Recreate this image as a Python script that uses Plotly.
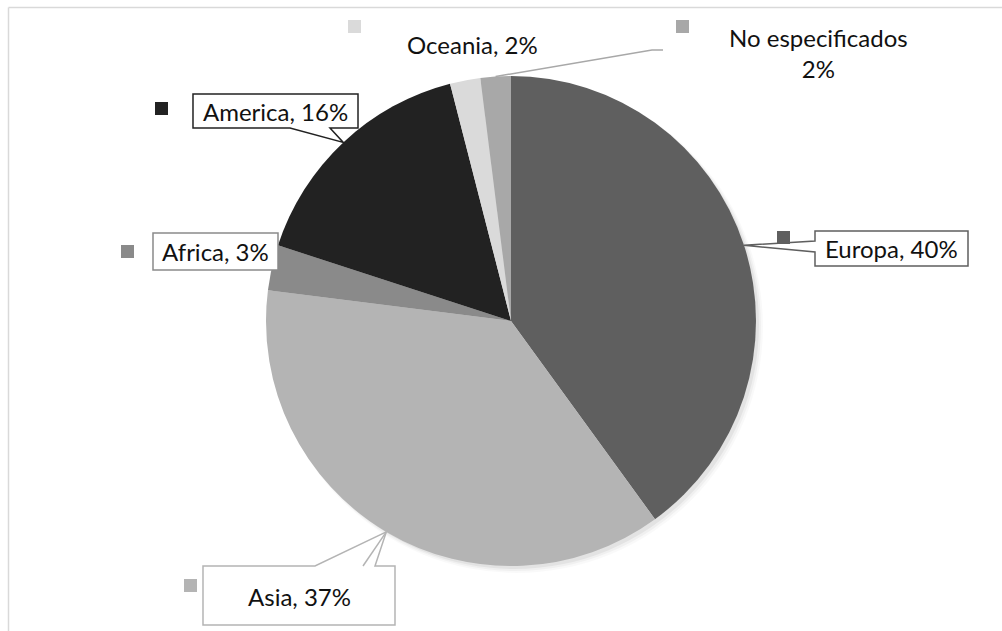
import math
import plotly.graph_objects as go

# Distribución por región de origen
regiones = ["Europa", "Asia", "Africa", "America", "Oceania", "No especificados"]
porcentajes = [40, 37, 3, 16, 2, 2]
colores = ["#5f5f5f", "#b4b4b4", "#8a8a8a", "#222222", "#dadada", "#a8a8a8"]

W, H = 1002, 631
CX, CY, R = 511, 321, 245  # centro y radio del pastel en píxeles


def px(x, y):
    """Píxeles (origen arriba a la izquierda) -> coordenadas paper."""
    return x / W, 1 - y / H


def punto_medio(i):
    """Punto del borde del pastel en el centro angular de la porción i."""
    total = sum(porcentajes)
    acum = sum(porcentajes[:i]) + porcentajes[i] / 2
    th = 2 * math.pi * acum / total
    return CX + R * math.sin(th), CY - R * math.cos(th)


def ruta(puntos, cerrar=True):
    partes = []
    for k, (x, y) in enumerate(puntos):
        u, v = px(x, y)
        partes.append(("M" if k == 0 else "L") + f"{u:.5f},{v:.5f}")
    return " ".join(partes) + (" Z" if cerrar else "")


fig = go.Figure()
x0, y1 = px(CX - R, CY - R)
x1, y0 = px(CX + R, CY + R)
fig.add_trace(go.Pie(
    labels=regiones,
    values=porcentajes,
    marker=dict(colors=colores, line=dict(width=0)),
    sort=False,
    direction="clockwise",
    rotation=0,
    textinfo="none",
    hoverinfo="label+percent",
    showlegend=False,
    domain=dict(x=[x0, x1], y=[y0, y1]),
))

shapes = []

# sombra suave bajo el pastel (desplazada hacia abajo a la derecha)
for d, op in [(7, 0.025), (5, 0.035), (3, 0.05)]:
    a0, b1 = px(CX - R + 4, CY - R + 4)
    a1, b0 = px(CX + R + d, CY + R + d)
    shapes.append(dict(type="circle", xref="paper", yref="paper", layer="below",
                       x0=a0, x1=a1, y0=b0, y1=b1, line=dict(width=0),
                       fillcolor=f"rgba(0,0,0,{op})"))

# marco del área del gráfico
fx, fy = px(8.5, 7.5)
shapes.append(dict(type="line", xref="paper", yref="paper", x0=fx, x1=1, y0=fy, y1=fy,
                   line=dict(color="#d9d9d9", width=1.5)))
shapes.append(dict(type="line", xref="paper", yref="paper", x0=fx, x1=fx, y0=0, y1=fy,
                   line=dict(color="#d9d9d9", width=1.5)))

i_eu, i_as, i_af, i_am, i_oc, i_ne = range(6)

# globos de etiqueta con su puntero hacia la porción
ax, ay = punto_medio(i_am)
globos = [
    ([(193, 94), (358, 94), (358, 128), (330, 128), (ax, ay), (290, 128), (193, 128)], colores[i_am]),
]
ex, ey = punto_medio(i_eu)
globos.append(([(815, 231), (968, 231), (968, 266), (815, 266), (815, 252), (ex, ey), (815, 241)],
               colores[i_eu]))
sx, sy = punto_medio(i_as)
globos.append(([(203, 566), (315, 566), (sx, sy), (375, 566), (395, 566), (395, 625), (203, 625)],
               colores[i_as]))
globos.append(([(153, 233), (278, 233), (278, 270), (153, 270)], colores[i_af]))

for pts, col in globos:
    shapes.append(dict(type="path", xref="paper", yref="paper", path=ruta(pts),
                       fillcolor="white", line=dict(color=col, width=1.5)))

# línea interior del puntero de Asia
shapes.append(dict(type="path", xref="paper", yref="paper",
                   path=ruta([(sx, sy), (363, 566)], cerrar=False),
                   line=dict(color=colores[i_as], width=1.5)))

# línea guía de "No especificados"
nx, ny = punto_medio(i_ne)
shapes.append(dict(type="path", xref="paper", yref="paper",
                   path=ruta([(nx, ny), (652, 50), (663, 50)], cerrar=False),
                   line=dict(color=colores[i_ne], width=1.5)))

# claves de color junto a cada etiqueta
claves = {
    i_am: (155, 102), i_af: (121, 245), i_eu: (777, 231),
    i_as: (184, 579), i_oc: (348, 20), i_ne: (676, 20),
}
for i, (qx, qy) in claves.items():
    a0, b1 = px(qx, qy)
    a1, b0 = px(qx + 13, qy + 13)
    shapes.append(dict(type="rect", xref="paper", yref="paper", x0=a0, x1=a1, y0=b0, y1=b1,
                       fillcolor=colores[i], line=dict(width=0)))

fig.update_layout(shapes=shapes)

# textos de las etiquetas
textos = {
    i_am: ((275.5, 111), f"{regiones[i_am]}, {porcentajes[i_am]}%"),
    i_af: ((215.5, 251.5), f"{regiones[i_af]}, {porcentajes[i_af]}%"),
    i_eu: ((891.5, 248.5), f"{regiones[i_eu]}, {porcentajes[i_eu]}%"),
    i_as: ((299, 596), f"{regiones[i_as]}, {porcentajes[i_as]}%"),
    i_oc: ((472, 45), f"{regiones[i_oc]}, {porcentajes[i_oc]}%"),
    i_ne: ((818, 53), f"{regiones[i_ne]}<br>{porcentajes[i_ne]}%"),
}
for i, ((tx, ty), txt) in textos.items():
    u, v = px(tx, ty)
    fig.add_annotation(x=u, y=v, xref="paper", yref="paper", text=txt, showarrow=False,
                       xanchor="center", yanchor="middle",
                       font=dict(family="Lato, Carlito, sans-serif", size=24, color="#111111"))

fig.update_layout(
    width=W, height=H,
    margin=dict(l=0, r=0, t=0, b=0),
    paper_bgcolor="white",
    plot_bgcolor="white",
)

fig.write_html("out.html")
